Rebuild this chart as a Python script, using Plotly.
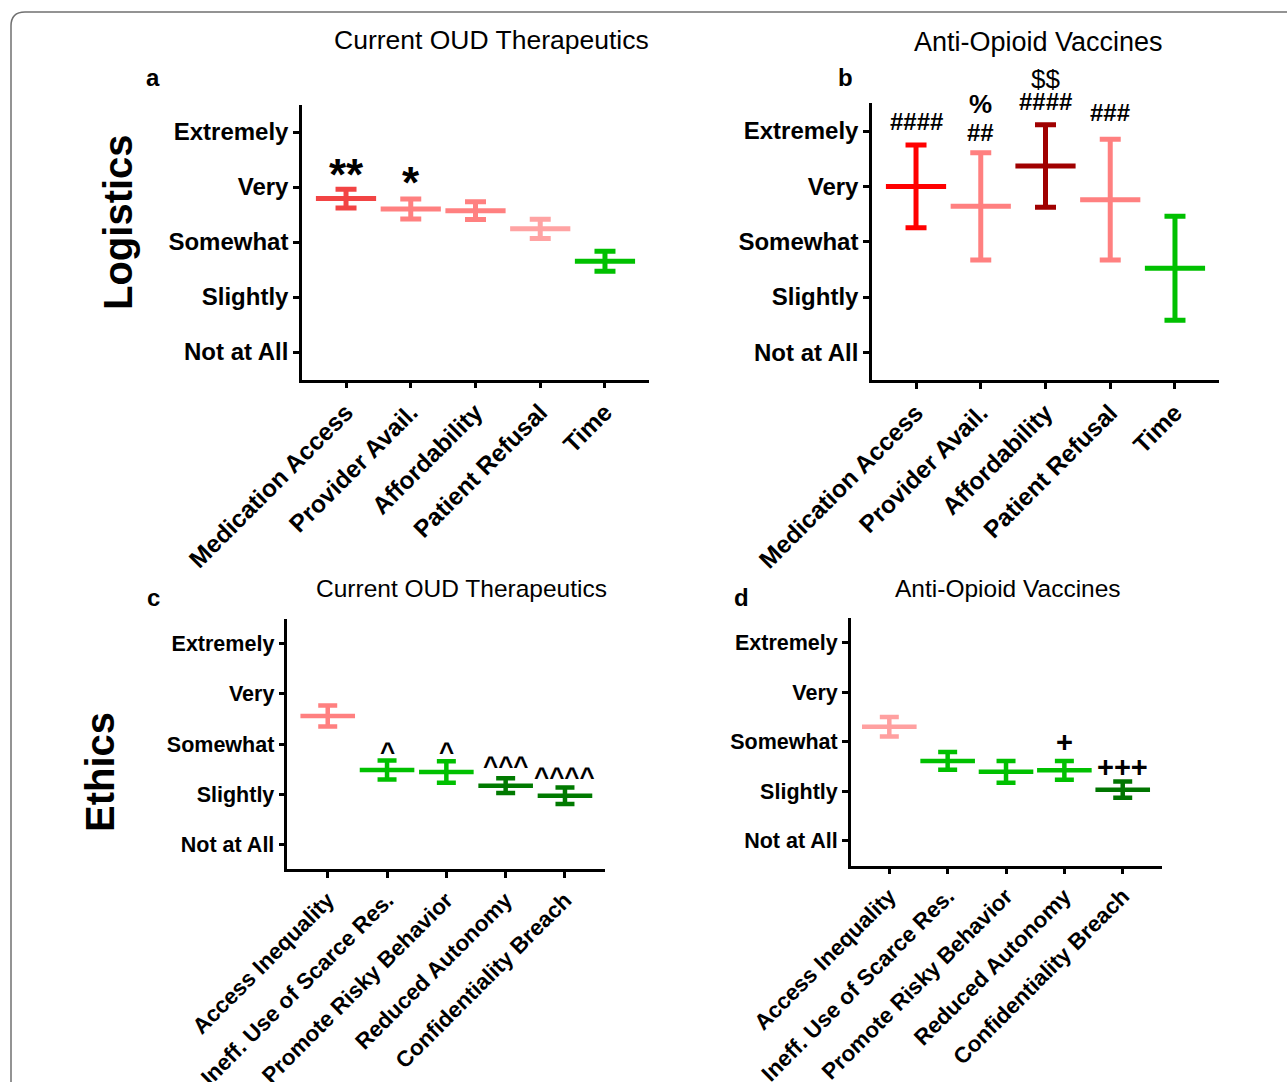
import plotly.graph_objects as go

# ---- data -------------------------------------------------------------
likert_labels = ["Not at All", "Slightly", "Somewhat", "Very", "Extremely"]
likert_values = [0, 1, 2, 3, 4]

logistics_categories = ["Medication Access", "Provider Avail.", "Affordability",
                        "Patient Refusal", "Time"]
ethics_categories = ["Access Inequality", "Ineff. Use of Scarce Res.",
                     "Promote Risky Behavior", "Reduced Autonomy",
                     "Confidentiality Breach"]

logistics_current_mean = [2.79, 2.60, 2.57, 2.24, 1.65]
logistics_current_err = [0.17, 0.18, 0.16, 0.175, 0.18]
logistics_current_colors = ["#F24444", "#FF8080", "#FF8080", "#FFA3A3", "#00C000"]
logistics_current_sig = ["**", "*", "", "", ""]

logistics_vaccine_mean = [3.00, 2.64, 3.37, 2.76, 1.52]
logistics_vaccine_err = [0.75, 0.97, 0.745, 1.09, 0.94]
logistics_vaccine_colors = ["#FF0000", "#FF8080", "#A00000", "#FF8080", "#00C000"]
logistics_vaccine_sig = ["####", "##", "####", "###", ""]
logistics_vaccine_sig2 = ["", "%", "$$", "", ""]

ethics_current_mean = [2.56, 1.48, 1.44, 1.17, 0.97]
ethics_current_err = [0.21, 0.19, 0.215, 0.145, 0.165]
ethics_current_colors = ["#FF8080", "#00C000", "#00C000", "#007A00", "#007A00"]
ethics_current_sig = ["", "^", "^", "^^^", "^^^^"]

ethics_vaccine_mean = [2.30, 1.61, 1.39, 1.42, 1.03]
ethics_vaccine_err = [0.195, 0.18, 0.22, 0.19, 0.165]
ethics_vaccine_colors = ["#FFA0A0", "#00C000", "#00C000", "#00C000", "#007500"]
ethics_vaccine_sig = ["", "", "", "+", "+++"]

# ---- layout helpers ---------------------------------------------------
W, H = 1287, 1082
FONT = "Arial, 'Liberation Sans', Helvetica, sans-serif"


def fx(p):
    return p / W


def fy(p):
    return 1 - p / H


fig = go.Figure()

panels = [
    # axis suffix, categories, means, errs, colors, x domain px, y domain px,
    # y label size, x label size, mean width, cap half-width, stroke, x range
    ("", logistics_categories, logistics_current_mean, logistics_current_err,
     logistics_current_colors, (302, 649), (104.5, 379.5), 24, 24.5, 43, 10.5, 5,
     [-0.68, 4.68]),
    ("2", logistics_categories, logistics_vaccine_mean, logistics_vaccine_err,
     logistics_vaccine_colors, (872, 1219), (103.4, 380.0), 24, 24.5, 43, 10.5, 5,
     [-0.68, 4.68]),
    ("3", ethics_categories, ethics_current_mean, ethics_current_err,
     ethics_current_colors, (287.4, 605.3), (618.6, 869.4), 21.5, 22.4, 39, 9.5, 4.5,
     [-0.68, 4.68]),
    ("4", ethics_categories, ethics_vaccine_mean, ethics_vaccine_err,
     ethics_vaccine_colors, (850.8, 1162.4), (617.7, 865.5), 21.5, 22.4, 39, 9.5, 4.5,
     [-0.66, 4.68]),
]

for (sfx, cats, means, errs, colors, xd, yd, ysz, xsz, mw, cw, sw, xr) in panels:
    xa = "x" + sfx
    ya = "y" + sfx
    for i, (m, e, c) in enumerate(zip(means, errs, colors)):
        fig.add_trace(go.Scatter(
            x=[i], y=[m], xaxis=xa, yaxis=ya, mode="markers",
            marker=dict(symbol="line-ew", size=mw, color=c,
                        line=dict(color=c, width=sw)),
            error_y=dict(type="data", array=[e], visible=True, color=c,
                         thickness=sw, width=cw),
            showlegend=False, hoverinfo="skip",
        ))
    axis_common = dict(showline=True, linecolor="black", linewidth=2.5,
                       ticks="outside", ticklen=6, tickwidth=2.5,
                       tickcolor="black", showgrid=False, zeroline=False,
                       automargin=False, fixedrange=True)
    fig.update_layout(**{
        ("xaxis" + sfx): dict(
            axis_common, domain=[fx(xd[0]), fx(xd[1])], range=xr,
            tickvals=list(range(len(cats))), ticktext=cats, tickangle=-45,
            tickfont=dict(family=FONT, size=xsz, color="black", weight="bold"),
            anchor=ya),
        ("yaxis" + sfx): dict(
            axis_common, domain=[fy(yd[1]), fy(yd[0])], range=[-0.5, 4.5],
            tickvals=likert_values, ticktext=likert_labels,
            tickfont=dict(family=FONT, size=ysz, color="black", weight="bold"),
            anchor=xa),
    })

annotations = []


def sig_marks(sfx, means, errs, marks, shifts, size, weights="bold"):
    """Place significance symbols above each upper error cap."""
    if isinstance(weights, str):
        weights = [weights] * len(marks)
    for i, t in enumerate(marks):
        if not t:
            continue
        annotations.append(dict(
            x=i, y=means[i] + errs[i], xref="x" + sfx, yref="y" + sfx,
            text=t, showarrow=False, yanchor="middle", yshift=shifts[i],
            font=dict(family=FONT, size=size, color="black", weight=weights[i])))


sig_marks("", logistics_current_mean, logistics_current_err,
          logistics_current_sig, [15, 17, 0, 0, 0], 44)
sig_marks("2", logistics_vaccine_mean, logistics_vaccine_err,
          logistics_vaccine_sig, [23, 20, 23, 27, 0], 24)
sig_marks("2", logistics_vaccine_mean, logistics_vaccine_err,
          logistics_vaccine_sig2, [0, 49, 46, 0, 0], 26,
          ["normal", "bold", "normal", "normal", "normal"])
sig_marks("3", ethics_current_mean, ethics_current_err,
          ethics_current_sig, [0, 9, 9, 12, 10], 26)
sig_marks("4", ethics_vaccine_mean, ethics_vaccine_err,
          ethics_vaccine_sig, [0, 0, 0, 19, 15], 29)

# panel titles
for text, x, y, size in [("Current OUD Therapeutics", 491, 40, 26.5),
                         ("Anti-Opioid Vaccines", 1038, 42, 27),
                         ("Current OUD Therapeutics", 461, 588, 24.5),
                         ("Anti-Opioid Vaccines", 1008, 588, 24.5)]:
    annotations.append(dict(x=fx(x), y=fy(y), xref="paper", yref="paper",
                            text=text, showarrow=False, xanchor="center",
                            yanchor="middle",
                            font=dict(family=FONT, size=size, color="black")))

# panel letters
for text, x, y in [("a", 153, 77), ("b", 845, 77), ("c", 153, 597), ("d", 741, 597)]:
    annotations.append(dict(x=fx(x), y=fy(y), xref="paper", yref="paper",
                            text=text, showarrow=False, xanchor="center",
                            yanchor="middle",
                            font=dict(family=FONT, size=24, color="black",
                                      weight="bold")))

# row labels
for text, x, y in [("Logistics", 118, 222), ("Ethics", 100, 772)]:
    annotations.append(dict(x=fx(x), y=fy(y), xref="paper", yref="paper",
                            text=text, showarrow=False, textangle=-90,
                            xanchor="center", yanchor="middle",
                            font=dict(family=FONT, size=40, color="black",
                                      weight="bold")))

# rounded outer frame
r = 14
frame = (f"M {fx(11)} -0.1 L {fx(11)} {fy(12 + r)} "
         f"Q {fx(11)} {fy(12)} {fx(11 + r)} {fy(12)} L 1.1 {fy(12)}")

fig.update_layout(
    width=W, height=H, margin=dict(l=0, r=0, t=0, b=0, autoexpand=False),
    paper_bgcolor="white", plot_bgcolor="white",
    annotations=annotations,
    shapes=[dict(type="path", path=frame, xref="paper", yref="paper",
                 line=dict(color="#707070", width=1.5))],
    showlegend=False,
)

fig.write_html("out.html", config={"displayModeBar": False})
